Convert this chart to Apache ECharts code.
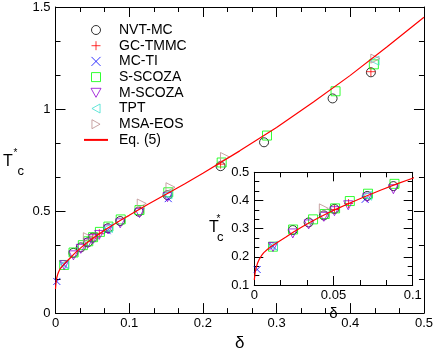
<!DOCTYPE html>
<html>
<head>
<meta charset="utf-8">
<script src="https://cdn.jsdelivr.net/npm/echarts@6/dist/echarts.min.js"></script>
<style>
  html, body { margin: 0; padding: 0; background: #fff; }
  #chart { width: 436px; height: 357px; }
</style>
</head>
<body>
<div id="chart"></div>
<script>
// values (delta, T*c)
var nvtDelta = [0.0243, 0.0343, 0.0439, 0.0506, 0.0713, 0.0878, 0.113, 0.152, 0.224, 0.283, 0.376, 0.428];
var nvtT     = [0.295, 0.322, 0.347, 0.370, 0.416, 0.451, 0.497, 0.578, 0.720, 0.837, 1.052, 1.180];

var gcDelta = [0.0506, 0.0595, 0.224, 0.428];
var gcT     = [0.368, 0.389, 0.730, 1.183];

var mctiDelta = [0.0018, 0.0118, 0.0700, 0.153];
var mctiT     = [0.155, 0.237, 0.404, 0.561];

var sscozaDelta = [0.0118, 0.0245, 0.0371, 0.0445, 0.051, 0.0603, 0.0718, 0.0885, 0.114, 0.153, 0.2255, 0.287, 0.380, 0.432];
var sscozaT     = [0.236, 0.297, 0.333, 0.352, 0.372, 0.398, 0.424, 0.459, 0.505, 0.592, 0.738, 0.870, 1.087, 1.219];

var mscozaDelta = [0.0118, 0.0243, 0.0343, 0.0439, 0.0506, 0.0593, 0.0713, 0.0878, 0.114, 0.152];
var mscozaT     = [0.235, 0.283, 0.315, 0.342, 0.362, 0.383, 0.410, 0.440, 0.490, 0.568];

var tptDelta = [0.0118, 0.0713, 0.152, 0.433];
var tptT     = [0.239, 0.417, 0.582, 1.237];

var msaDelta = [0.0439, 0.117, 0.156, 0.230, 0.434];
var msaT     = [0.372, 0.537, 0.617, 0.765, 1.247];

// Eq. (5) curve, sampled from the plot
var curveDelta = [0, 0.0005, 0.001, 0.002, 0.003, 0.0045, 0.006, 0.008, 0.01, 0.0125, 0.015, 0.02, 0.025, 0.03, 0.035, 0.04, 0.045, 0.05, 0.06, 0.07, 0.08, 0.09, 0.1, 0.125, 0.15, 0.175, 0.2, 0.25, 0.3, 0.35, 0.4, 0.45, 0.5];
var curveT     = [0.118, 0.142, 0.158, 0.177, 0.19, 0.204, 0.215, 0.225, 0.234, 0.244, 0.253, 0.27, 0.289, 0.306, 0.322, 0.337, 0.351, 0.365, 0.39, 0.414, 0.437, 0.459, 0.479, 0.532, 0.582, 0.633, 0.685, 0.795, 0.91, 1.035, 1.165, 1.305, 1.45];

var seriesNames = ["NVT-MC", "GC-TMMC", "MC-TI", "S-SCOZA", "M-SCOZA", "TPT", "MSA-EOS", "Eq. (5)"];

function pairs(xs, ys, maxX) {
  var out = [];
  for (var i = 0; i < xs.length; i++) {
    if (maxX == null || xs[i] <= maxX) out.push([xs[i], ys[i]]);
  }
  return out;
}

var FONT = "'Liberation Sans', Arial, sans-serif";

function axis(gridIndex, position, min, max, interval, showLabel, labelMargin, majorLen) {
  return {
    type: "value",
    gridIndex: gridIndex,
    position: position,
    min: min,
    max: max,
    interval: interval,
    axisLine: { show: true, onZero: false, lineStyle: { color: "#000", width: 1 } },
    axisTick: { show: true, inside: true, length: majorLen, lineStyle: { color: "#000", width: 1 } },
    minorTick: { show: true, splitNumber: 3, length: 5, lineStyle: { color: "#000", width: 1 } },
    splitLine: { show: false },
    axisLabel: { show: showLabel, margin: labelMargin, color: "#000", fontSize: 13, fontFamily: FONT }
  };
}

var symbols = {
  "NVT-MC":  { symbol: "circle", size: 9, color: "#000000", hollow: true },
  "GC-TMMC": { symbol: "path://M5,0L5,10M0,5L10,5", size: 9, color: "#ff0000" },
  "MC-TI":   { symbol: "path://M0,0L10,10M10,0L0,10", size: 7, color: "#0000ff" },
  "S-SCOZA": { symbol: "path://M0,0L10,0L10,10L0,10Z", size: 9, color: "#00ff00", hollow: true },
  "M-SCOZA": { symbol: "path://M0,0L10,0L5,9Z", size: 9, color: "#9400d3", hollow: true },
  "TPT":     { symbol: "path://M9,0L9,10L0,5Z", size: 9, color: "#40e0d0", hollow: true },
  "MSA-EOS": { symbol: "path://M0,0L0,10L9,5Z", size: 9, color: "#bc8f8f", hollow: true }
};

var dataSets = {
  "NVT-MC": [nvtDelta, nvtT],
  "GC-TMMC": [gcDelta, gcT],
  "MC-TI": [mctiDelta, mctiT],
  "S-SCOZA": [sscozaDelta, sscozaT],
  "M-SCOZA": [mscozaDelta, mscozaT],
  "TPT": [tptDelta, tptT],
  "MSA-EOS": [msaDelta, msaT]
};

var series = [];
[0, 2].forEach(function (ax) {
  var maxX = ax === 2 ? 0.1 : null;
  seriesNames.slice(0, 7).forEach(function (name) {
    var s = symbols[name];
    series.push({
      name: name,
      type: "scatter",
      xAxisIndex: ax,
      yAxisIndex: ax,
      symbol: s.symbol,
      symbolSize: s.size,
      itemStyle: {
        color: s.hollow ? "rgba(0,0,0,0)" : s.color,
        borderColor: s.color,
        borderWidth: 1
      },
      data: pairs(dataSets[name][0], dataSets[name][1], maxX)
    });
  });
  series.push({
    name: "Eq. (5)",
    type: "line",
    xAxisIndex: ax,
    yAxisIndex: ax,
    symbol: "none",
    smooth: false,
    lineStyle: { color: "#ff0000", width: 1.2 },
    itemStyle: { color: "rgba(0,0,0,0)", borderColor: "rgba(0,0,0,0)" },
    data: pairs(curveDelta, curveT, null)
  });
});

var chart = echarts.init(document.getElementById("chart"), null, { renderer: "canvas" });

chart.setOption({
  animation: false,
  backgroundColor: "#fff",
  textStyle: { fontFamily: FONT },
  grid: [
    { left: 55.5, top: 7, width: 368.5, height: 311 },
    { left: 254.3, top: 172.3, width: 158.4, height: 112.7, show: true, backgroundColor: "#fff", borderWidth: 0 }
  ],
  legend: {
    data: seriesNames,
    orient: "vertical",
    left: 78,
    top: 18,
    itemWidth: 24,
    itemHeight: 9,
    itemGap: 1.7,
    itemStyle: { borderWidth: 1 },
    textStyle: { fontSize: 14, lineHeight: 14, color: "#000", fontFamily: FONT, padding: [0, 0, 0, 6] }
  },
  xAxis: [
    Object.assign(axis(0, "bottom", 0, 0.5, 0.1, true, 4, 10), {
      name: "δ", nameLocation: "middle", nameGap: 21,
      nameTextStyle: { fontSize: 17, color: "#000", fontFamily: FONT }
    }),
    axis(0, "top", 0, 0.5, 0.1, false, 4, 10),
    Object.assign(axis(1, "bottom", 0, 0.1, 0.05, true, 4, 9), {
      name: "δ", nameLocation: "middle", nameGap: 21,
      nameTextStyle: { fontSize: 15, color: "#000", fontFamily: FONT }
    }),
    axis(1, "top", 0, 0.1, 0.05, false, 4, 9)
  ],
  yAxis: [
    axis(0, "left", 0, 1.5, 0.5, true, 5, 10),
    axis(0, "right", 0, 1.5, 0.5, false, 5, 10),
    axis(1, "left", 0.1, 0.5, 0.1, true, 5, 9),
    axis(1, "right", 0.1, 0.5, 0.1, false, 5, 9)
  ],
  graphic: [
    { type: "text", left: 3, top: 154, style: { text: "T", font: "16px " + FONT, fill: "#000" } },
    { type: "text", left: 13.5, top: 148, style: { text: "*", font: "10px " + FONT, fill: "#000" } },
    { type: "text", left: 17.5, top: 165, style: { text: "c", font: "13px " + FONT, fill: "#000" } },
    { type: "text", left: 209, top: 220, style: { text: "T", font: "16px " + FONT, fill: "#000" } },
    { type: "text", left: 216.5, top: 214, style: { text: "*", font: "10px " + FONT, fill: "#000" } },
    { type: "text", left: 217, top: 231, style: { text: "c", font: "13px " + FONT, fill: "#000" } }
  ],
  series: series
});
</script>
</body>
</html>
